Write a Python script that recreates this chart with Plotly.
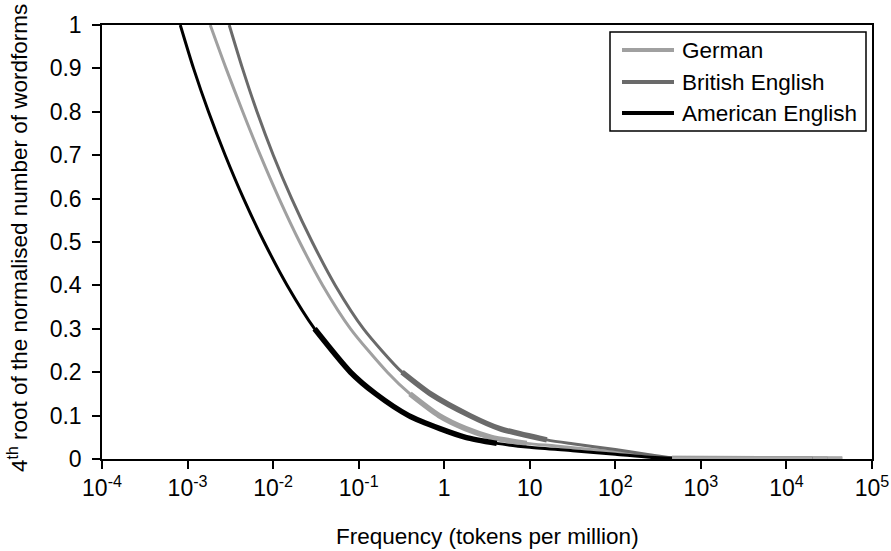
import plotly.graph_objects as go

# ---- data (frequency in tokens per million, 4th root of normalised number of wordforms)
german_x = [1.841e-3, 2.818e-3, 4.416e-3, 7.079e-3, 0.01175, 0.02042, 0.03802, 0.08035,
            0.2163, 0.3981, 0.871, 1.778, 3.548, 9.23, 20, 100, 250, 460, 45000]
german_y = [1.0, 0.9, 0.8, 0.7, 0.6, 0.5, 0.4, 0.3, 0.2, 0.15, 0.1, 0.07, 0.05, 0.036,
            0.03, 0.016, 0.007, 0.003, 0.002]

british_x = [3.069e-3, 4.385e-3, 6.486e-3, 1.005e-2, 0.01648, 0.02864, 0.05333, 0.114,
             0.3214, 0.6918, 1.995, 4.467, 15.85, 31.6, 100, 250, 460, 30000]
british_y = [1.0, 0.9, 0.8, 0.7, 0.6, 0.5, 0.4, 0.3, 0.2, 0.15, 0.1, 0.07, 0.044,
             0.035, 0.022, 0.010, 0.003, 0.002]

american_x = [8.22e-4, 1.175e-3, 1.758e-3, 2.754e-3, 4.519e-3, 7.852e-3, 0.01462, 0.03055,
              0.08035, 0.1585, 0.3846, 0.8913, 1.778, 4.11, 10, 31.6, 100, 250, 460, 20000]
american_y = [1.0, 0.9, 0.8, 0.7, 0.6, 0.5, 0.4, 0.3, 0.2, 0.15, 0.1, 0.07, 0.05, 0.036,
              0.027, 0.019, 0.011, 0.004, 0.002, 0.002]

# ranges (x) where the observed data is noisy/thick
german_noisy = [0.35, 9.23]
british_noisy = [0.3, 15.85]
american_noisy = [0.03, 4.11]
flat_tail_start = 460

x_tickvals = [1e-4, 1e-3, 1e-2, 1e-1, 1, 10, 100, 1e3, 1e4, 1e5]
x_ticktext = ["10<sup>-4</sup>", "10<sup>-3</sup>", "10<sup>-2</sup>", "10<sup>-1</sup>", "1", "10",
              "10<sup>2</sup>", "10<sup>3</sup>", "10<sup>4</sup>", "10<sup>5</sup>"]
y_tickvals = [0, 0.1, 0.2, 0.3, 0.4, 0.5, 0.6, 0.7, 0.8, 0.9, 1]
y_ticktext = ["0", "0.1", "0.2", "0.3", "0.4", "0.5", "0.6", "0.7", "0.8", "0.9", "1"]

x_title = "Frequency (tokens per million)"
y_title = "4<sup>th</sup> root of the normalised number of wordforms"

series_names = ["German", "British English", "American English"]
series_colors = ["#a0a0a0", "#6a6a6a", "#000000"]

series = [
    (series_names[0], german_x, german_y, german_noisy, series_colors[0]),
    (series_names[1], british_x, british_y, british_noisy, series_colors[1]),
    (series_names[2], american_x, american_y, american_noisy, series_colors[2]),
]

FONT = "Liberation Sans, Arial, sans-serif"
FS = 22.5
TFS = 23

# plot-area geometry in pixels
L, R, T, B = 102, 872, 25, 459
def px(xp):
    return (xp - L) / (R - L)
def py(yp):
    return (B - yp) / (B - T)

fig = go.Figure()
for name, xs, ys, noisy, col in series:
    fig.add_trace(go.Scatter(x=xs, y=ys, mode="lines", name=name, showlegend=False,
                             line=dict(color=col, width=3, shape="spline", smoothing=0.7)))
    seg = [(a, b) for a, b in zip(xs, ys) if noisy[0] <= a <= noisy[1]]
    fig.add_trace(go.Scatter(x=[p[0] for p in seg], y=[p[1] for p in seg], mode="lines",
                             showlegend=False, hoverinfo="skip",
                             line=dict(color=col, width=5.5, shape="spline", smoothing=0.7)))
    tail = [(a, b) for a, b in zip(xs, ys) if a >= flat_tail_start]
    fig.add_trace(go.Scatter(x=[p[0] for p in tail], y=[p[1] for p in tail], mode="lines",
                             showlegend=False, hoverinfo="skip",
                             line=dict(color="#a8a8a8", width=4)))

# legend box drawn as shapes + text
shapes = [dict(type="rect", xref="paper", yref="paper",
               x0=px(610), x1=px(866), y0=py(131), y1=py(32),
               line=dict(color="black", width=1.5), fillcolor="white", layer="above")]
annotations = []
row_y = [50, 82, 113]
for nm, col, ry in zip(series_names, series_colors, row_y):
    shapes.append(dict(type="line", xref="paper", yref="paper",
                       x0=px(622), x1=px(674), y0=py(ry), y1=py(ry),
                       line=dict(color=col, width=4), layer="above"))
    annotations.append(dict(text=nm, xref="paper", yref="paper", x=px(680), y=py(ry),
                            xanchor="left", yanchor="middle", showarrow=False,
                            font=dict(family=FONT, size=FS, color="black")))

# axis titles
annotations.append(dict(text=x_title, xref="paper", yref="paper", x=0.5, y=py(536),
                        xanchor="center", yanchor="middle", showarrow=False,
                        font=dict(family=FONT, size=FS, color="black")))
annotations.append(dict(text=y_title, xref="paper", yref="paper", x=px(18), y=py(238),
                        xanchor="center", yanchor="middle", showarrow=False, textangle=-90,
                        font=dict(family=FONT, size=FS, color="black")))

fig.update_layout(
    width=891, height=551,
    margin=dict(l=L, r=891 - R, t=T, b=551 - B),
    paper_bgcolor="white", plot_bgcolor="white",
    font=dict(family=FONT, size=FS, color="black"),
    showlegend=False,
    shapes=shapes, annotations=annotations,
    xaxis=dict(type="log", range=[-4, 5], tickvals=x_tickvals, ticktext=x_ticktext,
               showgrid=False, zeroline=False, showline=True, linecolor="black", linewidth=1.5,
               mirror=True, ticks="outside", ticklen=8, tickwidth=1.5, tickcolor="black",
               automargin=False,
               tickfont=dict(family=FONT, size=TFS)),
    yaxis=dict(range=[0, 1], tickvals=y_tickvals, ticktext=y_ticktext,
               showgrid=False, zeroline=False, showline=True, linecolor="black", linewidth=1.5,
               mirror=True, ticks="outside", ticklen=8, tickwidth=1.5, tickcolor="black",
               ticklabelstandoff=6, automargin=False,
               tickfont=dict(family=FONT, size=TFS)),
)

fig.write_html("out.html")
